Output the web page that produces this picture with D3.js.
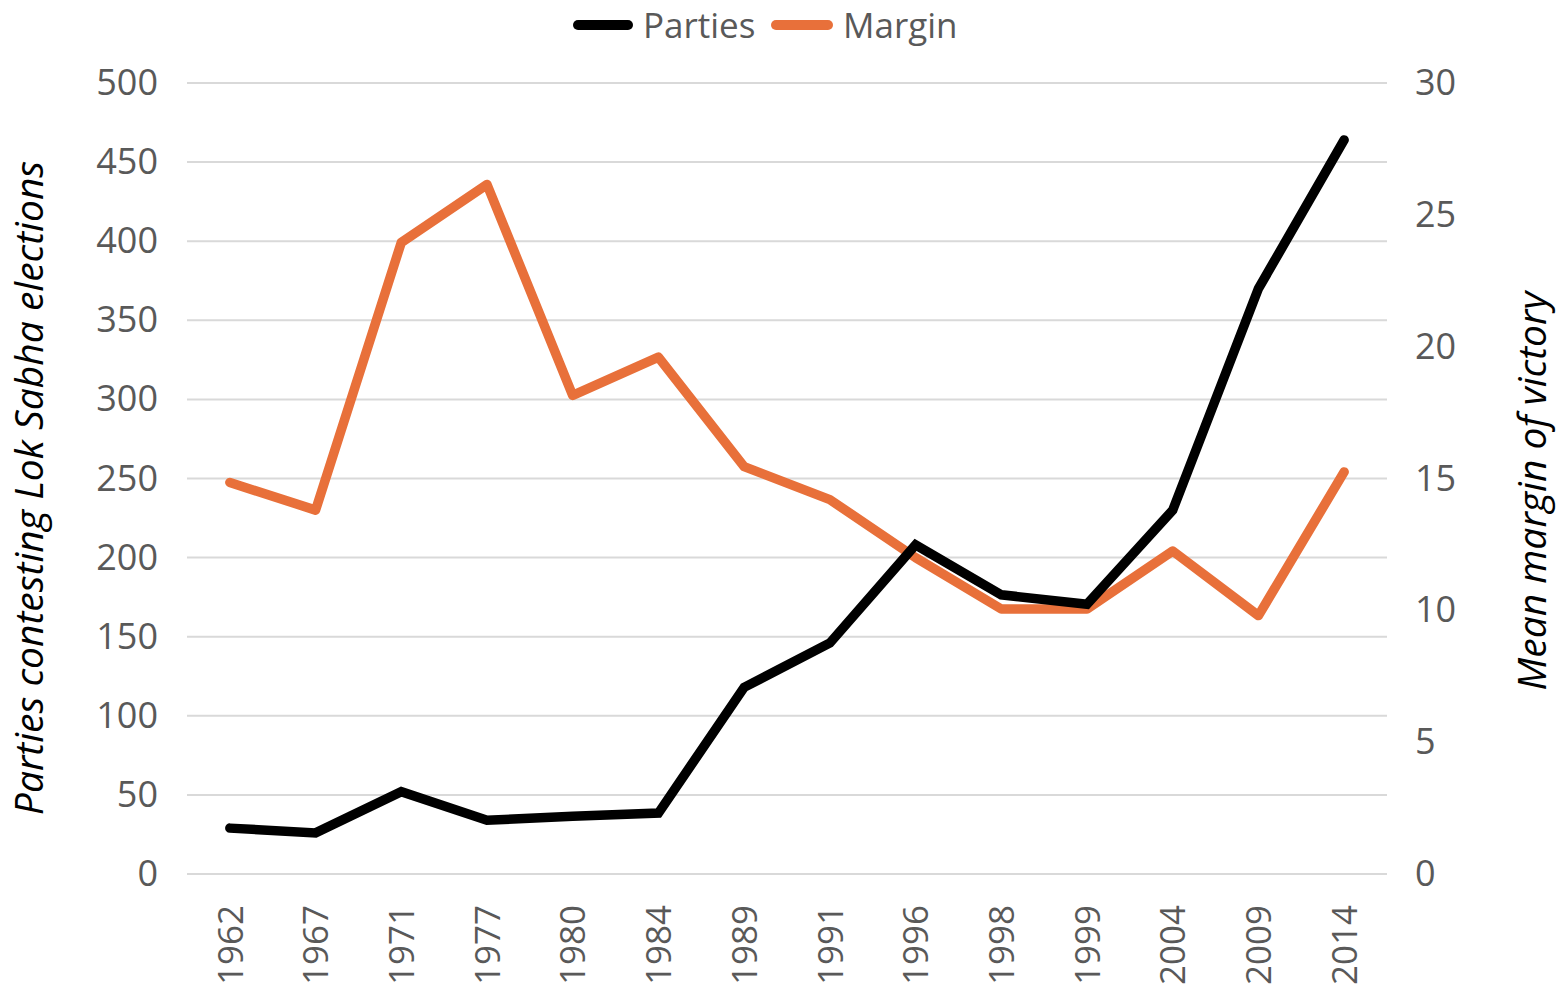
<!DOCTYPE html>
<html><head><meta charset="utf-8">
<script src="https://cdn.jsdelivr.net/npm/d3@7"></script>
<style>body{margin:0;background:#fff}svg{display:block}</style>
</head><body>
<svg id="c" width="1562" height="989"></svg>
<script>
const years = ["1962","1967","1971","1977","1980","1984","1989","1991","1996","1998","1999","2004","2009","2014"];
const parties = [29, 26, 52, 34, 36.5, 38.5, 118, 146, 208, 176.5, 170.5, 230, 370, 464];
const margin = [14.85, 13.8, 23.95, 26.15, 18.15, 19.6, 15.45, 14.2, 12.0, 10.05, 10.05, 12.25, 9.8, 15.25];
const leftTicks = [0,50,100,150,200,250,300,350,400,450,500];
const rightTicks = [0,5,10,15,20,25,30];
const seriesNames = ["Parties","Margin"];
const colors = ["#000000","#E8703A"];

const svg = d3.select("#c");
const L = 187, R = 1387, T = 83, B = 874;
const font = "'Open Sans', sans-serif";
const grey = "#595959";

const x = d3.scalePoint().domain(years).range([L, R]).padding(0.5);
const yL = d3.scaleLinear().domain([0,500]).range([B, T]);
const yR = d3.scaleLinear().domain([0,30]).range([B, T]);

// gridlines
svg.append("g").selectAll("line").data(leftTicks).join("line")
  .attr("x1", L).attr("x2", R).attr("y1", d=>yL(d)).attr("y2", d=>yL(d))
  .attr("stroke", "#d9d9d9").attr("stroke-width", 2);

// left axis
const gl = svg.append("g").attr("transform", `translate(${L},0)`)
  .call(d3.axisLeft(yL).tickValues(leftTicks).tickSize(0).tickPadding(29));
gl.select(".domain").remove();
gl.selectAll("text").attr("font-family", font).attr("font-size", 36).attr("fill", grey);

// right axis
const gr = svg.append("g").attr("transform", `translate(${R},0)`)
  .call(d3.axisRight(yR).tickValues(rightTicks).tickSize(0).tickPadding(28));
gr.select(".domain").remove();
gr.selectAll("text").attr("font-family", font).attr("font-size", 36).attr("fill", grey);

// bottom axis
const gb = svg.append("g").attr("transform", `translate(0,${B})`)
  .call(d3.axisBottom(x).tickSize(0));
gb.select(".domain").remove();
gb.selectAll("text").attr("font-family", font).attr("font-size", 35).attr("fill", grey)
  .attr("transform", "rotate(-90)").attr("text-anchor", "end")
  .attr("x", -31).attr("y", 0).attr("dy", "0.35em");

// lines
const lineL = d3.line().x((d,i)=>x(years[i])).y(d=>yL(d));
const lineR = d3.line().x((d,i)=>x(years[i])).y(d=>yR(d));
svg.append("path").datum(margin).attr("d", lineR).attr("fill","none")
  .attr("stroke", colors[1]).attr("stroke-width", 9.5).attr("stroke-linejoin","round").attr("stroke-linecap","round");
svg.append("path").datum(parties).attr("d", lineL).attr("fill","none")
  .attr("stroke", colors[0]).attr("stroke-width", 9.5).attr("stroke-linejoin","miter").attr("stroke-linecap","round");

// axis titles
svg.append("text").attr("transform", `translate(43,488) rotate(-90)`)
  .attr("text-anchor","middle").attr("font-family", font).attr("font-style","italic")
  .attr("font-size", 39).attr("fill","#000").text("Parties contesting Lok Sabha elections");
svg.append("text").attr("transform", `translate(1546,491) rotate(-90)`)
  .attr("text-anchor","middle").attr("font-family", font).attr("font-style","italic")
  .attr("font-size", 39).attr("fill","#000").text("Mean margin of victory");

// legend
const leg = [{x1:578,x2:628,tx:643},{x1:776,x2:828,tx:843}];
leg.forEach((p,i)=>{
  svg.append("line").attr("x1",p.x1).attr("x2",p.x2).attr("y1",25).attr("y2",25)
    .attr("stroke",colors[i]).attr("stroke-width",10).attr("stroke-linecap","round");
  svg.append("text").attr("x",p.tx).attr("y",38)
    .attr("font-family",font).attr("font-size",35).attr("fill",grey).text(seriesNames[i]);
});
</script>
</body></html>
